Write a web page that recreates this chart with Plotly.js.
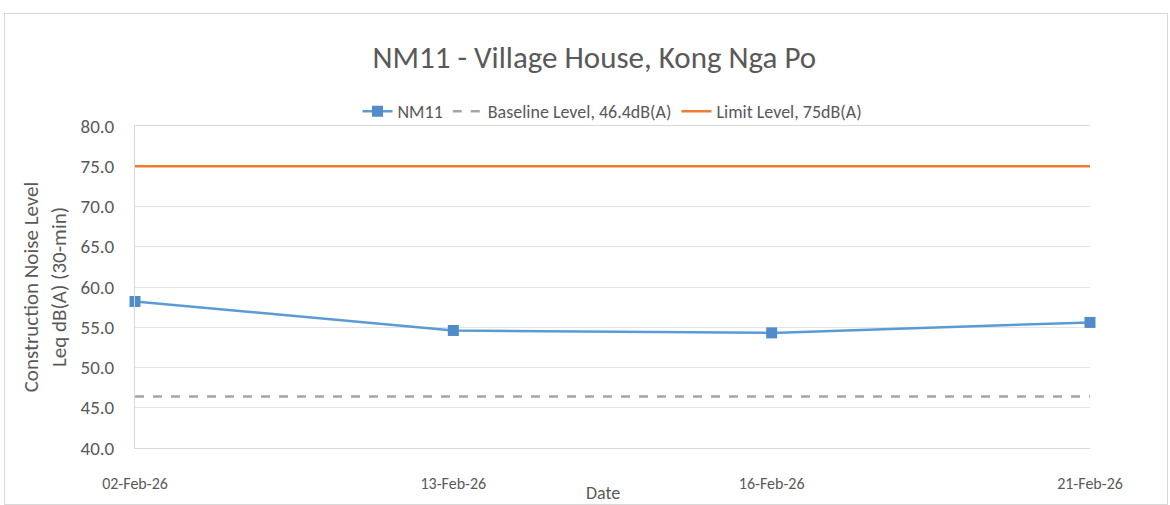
<!DOCTYPE html>
<html>
<head>
<meta charset="utf-8">
<script src="https://cdn.plot.ly/plotly-3.0.1.min.js"></script>
<style>
html,body{margin:0;padding:0;background:#fff;}
#chart{width:1170px;height:505px;position:relative;}
#frame{position:absolute;left:4px;top:13px;width:1162px;height:490px;border:1px solid #d9d9d9;pointer-events:none;}
</style>
</head>
<body>
<div id="chart"></div>
<div id="frame"></div>
<script>
const dates = ["02-Feb-26", "13-Feb-26", "16-Feb-26", "21-Feb-26"];
const nm11 = [58.2, 54.6, 54.3, 55.6];
const baselineLevel = 46.4;
const limitLevel = 75;
const chartTitle = "NM11 - Village House, Kong Nga Po";

const idx = dates.map((d, i) => i);
const font = "Carlito, Calibri, Lato, 'Open Sans', sans-serif";

const traces = [
  {
    x: idx, y: nm11, name: "NM11", mode: "lines+markers", type: "scatter",
    cliponaxis: false,
    line: {color: "#5B9BD5", width: 2.5},
    marker: {symbol: "square", size: 11, color: "#4F8CC9", line: {color: "#4F8CC9", width: 0}}
  },
  {
    x: [idx[0], idx[idx.length - 1]], y: [baselineLevel, baselineLevel],
    name: "Baseline Level, 46.4dB(A)", mode: "lines", type: "scatter",
    line: {color: "#A5A5A5", width: 2.5, dash: "dash"}
  },
  {
    x: [idx[0], idx[idx.length - 1]], y: [limitLevel, limitLevel],
    name: "Limit Level, 75dB(A)", mode: "lines", type: "scatter",
    line: {color: "#ED7D31", width: 2.5}
  }
];

const layout = {
  width: 1170, height: 505,
  margin: {l: 135, r: 80, t: 126, b: 57},
  paper_bgcolor: "#ffffff", plot_bgcolor: "#ffffff",
  font: {family: font, color: "#595959", size: 17},
  title: {
    text: chartTitle, x: 0.508, xanchor: "center", y: 1 - 57 / 505, yanchor: "middle",
    font: {family: font, size: 31, color: "#595959"}
  },
  showlegend: true,
  legend: {
    orientation: "h", x: 0.5, xanchor: "center", y: 1.045, yanchor: "middle",
    font: {family: font, size: 18, color: "#595959"},
    traceorder: "normal", bgcolor: "rgba(0,0,0,0)"
  },
  xaxis: {
    tickmode: "array", tickvals: idx, ticktext: dates,
    range: [0, idx.length - 1],
    showgrid: false, zeroline: false,
    showline: true, linecolor: "#d9d9d9", linewidth: 1, mirror: true,
    ticks: "", ticklabelstandoff: 21,
    tickfont: {family: font, size: 16, color: "#595959"}
  },
  yaxis: {
    range: [40, 80], dtick: 5, tick0: 40, tickformat: ".1f",
    showgrid: true, gridcolor: "#e3e3e3", gridwidth: 1,
    zeroline: false, showline: true, linecolor: "#d9d9d9", linewidth: 1,
    ticks: "", ticklabelstandoff: 16,
    tickfont: {family: font, size: 19, color: "#595959"},
    title: {text: "Construction Noise Level<br>Leq dB(A) (30-min)", standoff: 8,
            font: {family: font, size: 21, color: "#595959"}}
  },
  annotations: [{
    text: "Date", xref: "paper", yref: "paper", x: 0.49, y: -45 / 322,
    xanchor: "center", yanchor: "middle", showarrow: false,
    font: {family: font, size: 18, color: "#595959"}
  }]
};

Plotly.newPlot("chart", traces, layout, {displayModeBar: false, responsive: false});
</script>
</body>
</html>
